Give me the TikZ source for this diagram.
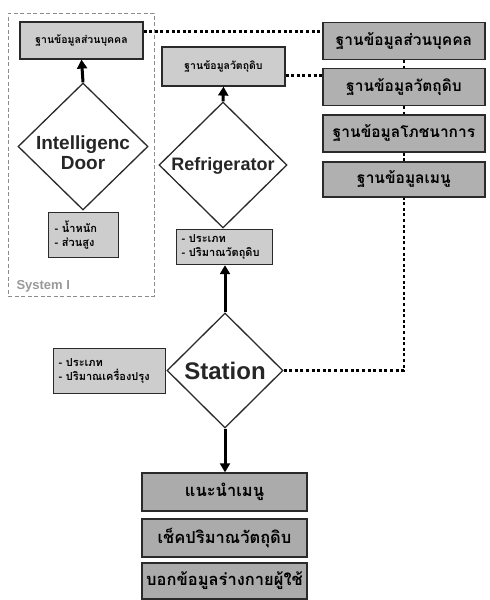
\documentclass[tikz,border=0pt]{standalone}
\usepackage{fontspec}
\setmainfont{Liberation Sans}
\newfontfamily\thai[Script=Thai]{Loma}
\usetikzlibrary{shapes.geometric,arrows.meta,calc}
\definecolor{boxdark}{HTML}{B0B0B0}
\definecolor{boxlight}{HTML}{CDCDCD}
\definecolor{boxbottom}{HTML}{ABABAB}
\definecolor{edge}{HTML}{2A2A2A}
\tikzset{
  dbox/.style={draw=edge,line width=1.4pt,fill=boxdark,inner sep=0pt,
    minimum width=162pt,minimum height=37pt,font=\thai\bfseries\fontsize{15.5}{17}\selectfont},
  bbox/.style={draw=edge,line width=1.4pt,fill=boxbottom,inner sep=0pt,
    minimum width=165pt,minimum height=37pt,font=\thai\bfseries\fontsize{16.5}{18}\selectfont},
  sbox/.style={draw=edge,line width=1.2pt,fill=boxlight,inner sep=0pt,
    font=\thai\bfseries\fontsize{10.5}{13}\selectfont},
  ibox/.style={draw=edge,line width=1.2pt,fill=boxlight,inner xsep=6pt,inner ysep=4pt,align=left,
    font=\thai\bfseries\fontsize{11}{14}\selectfont,anchor=north west},
  dia/.style={draw=edge,line width=1.3pt,fill=white,diamond,inner sep=0pt},
  dtext/.style={font=\bfseries\fontsize{18}{20}\selectfont,align=center,text=black!85},
  bigarrow/.style={line width=3pt,-{Triangle[width=10pt,length=9pt]}},
  dots/.style={line width=2.6pt,dash pattern=on 3pt off 2.6pt},
}
\begin{document}
\begin{tikzpicture}[x=1pt,y=-1pt]
\useasboundingbox (0,0) rectangle (490,600);
\fill[white] (0,0) rectangle (490,600);
% System I frame
\node[draw=black!45,dashed,dash pattern=on 4pt off 2.5pt,line width=0.9pt,
  minimum width=146pt,minimum height=283pt,inner sep=0pt] (sys) at (81,154.5) {};
\node[anchor=west,font=\bfseries\fontsize{13}{14}\selectfont,text=black!40] (syslbl) at (13,286) {System I};
% left column
\node[sbox,minimum width=123pt,minimum height=37pt] (tl) at (81.5,40.5) {ฐานข้อมูลส่วนบุคคล};
\node[dia,minimum width=130pt,minimum height=127pt] (door) at (83,146.5) {};
\node[dtext,font=\bfseries\fontsize{19}{20}\selectfont] (doortxt) at (83,153) {Intelligenc\\Door};
\node[ibox,text width=58pt,minimum height=45pt] (doorinfo) at (48,212) {- น้ำหนัก\\- ส่วนสูง};
% fridge column
\node[sbox,minimum width=123pt,minimum height=39pt] (fb) at (223.5,66.5) {ฐานข้อมูลวัตถุดิบ};
\node[dia,minimum width=128pt,minimum height=126pt] (fridge) at (223,165) {};
\node[dtext] (fridgetxt) at (223,166) {Refrigerator};
\node[ibox,text width=86pt,minimum height=35pt,inner xsep=5pt,inner ysep=2pt] (fridgeinfo) at (176,229) {- ประเภท\\- ปริมาณวัตถุดิบ};
% station
\node[dia,minimum width=116pt,minimum height=115pt] (station) at (225,370.5) {};
\node[dtext,font=\bfseries\fontsize{24}{26}\selectfont] (stationtxt) at (225,371) {Station};
\node[ibox,text width=102pt,minimum height=45pt,inner xsep=5pt] (stationinfo) at (53,348) {- ประเภท\\- ปริมาณเครื่องปรุง};
% right database boxes
\node[dbox] (r1) at (404,41) {ฐานข้อมูลส่วนบุคคล};
\node[dbox] (r2) at (404,87) {ฐานข้อมูลวัตถุดิบ};
\node[dbox] (r3) at (404,133.5) {ฐานข้อมูลโภชนาการ};
\node[dbox,minimum height=35pt] (r4) at (404,179.5) {ฐานข้อมูลเมนู};
% bottom boxes
\node[bbox,minimum height=38pt] (b1) at (224.5,492) {แนะนำเมนู};
\node[bbox,minimum height=38pt] (b2) at (224.5,538) {เช็คปริมาณวัตถุดิบ};
\node[bbox,minimum height=36pt] (b3) at (224.5,581) {บอกข้อมูลร่างกายผู้ใช้};
% arrows
\draw[bigarrow] (door.north) -- (tl.south);
\draw[bigarrow] (fridge.north) -- (fb.south);
\draw[bigarrow] (station.north) -- (fridgeinfo.south -| station.north);
\draw[bigarrow] (station.south) -- (b1.north -| station.south);
% dotted links
\coordinate (tlp) at ($(tl.north east)!0.27!(tl.south east)$);
\draw[dots] (tlp) -- (tlp -| r1.west);
\coordinate (fbp) at ($(fb.north east)!0.72!(fb.south east)$);
\draw[dots] (fbp) -- (fbp -| r2.west);
\draw[dots] (r1.south) -- (r2.north);
\draw[dots] (r2.south) -- (r3.north);
\draw[dots] (r3.south) -- (r4.north);
\draw[dots] (station.east) -- (station.east -| r4.south) -- (r4.south);
\end{tikzpicture}
\end{document}
